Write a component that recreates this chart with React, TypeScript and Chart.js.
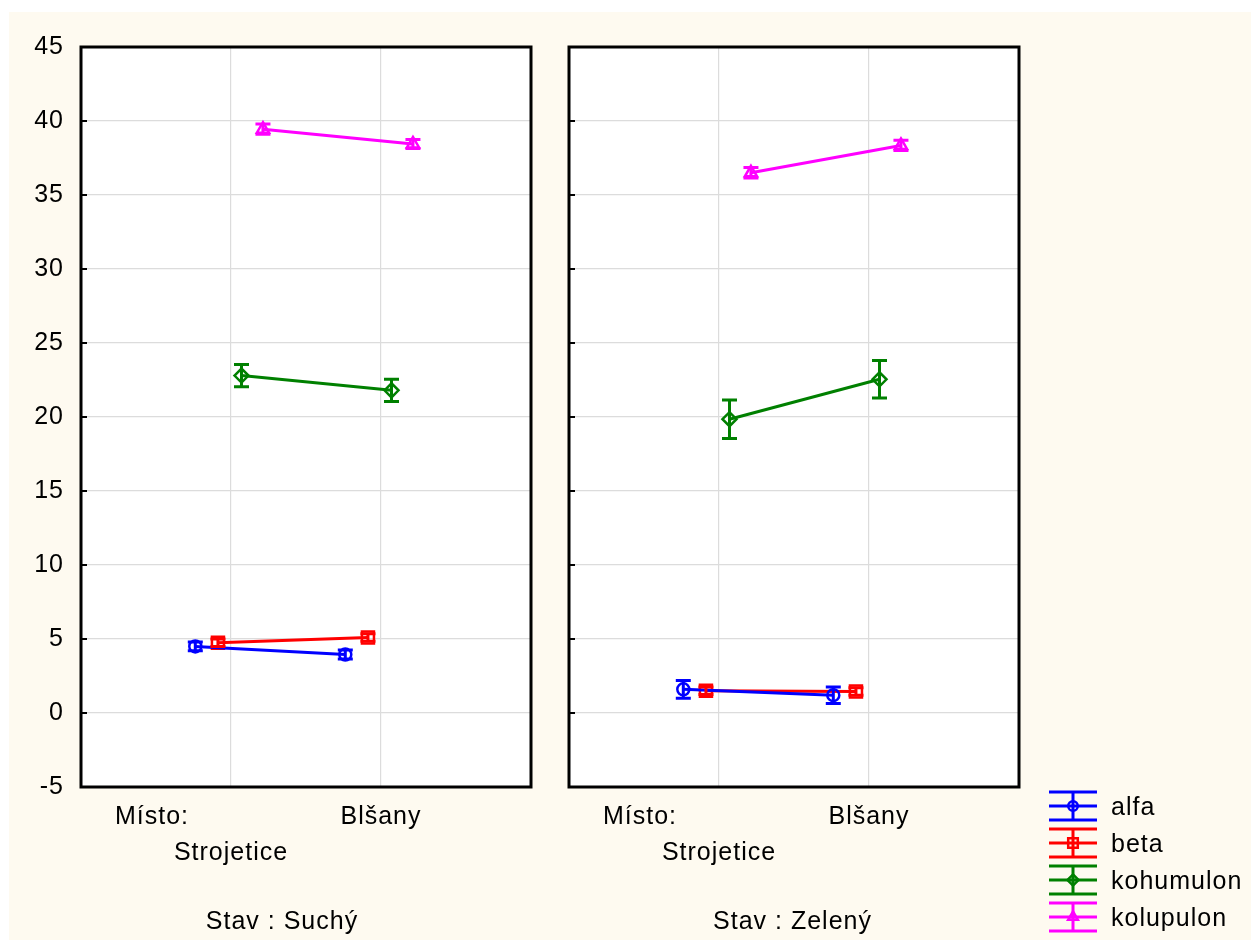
import React, { useEffect, useRef } from "react";
import { Chart, registerables } from "chart.js";
Chart.register(...registerables);

// ---- data ----
const places = ["Strojetice", "Blšany"];
const seriesNames = ["alfa", "beta", "kohumulon", "kolupulon"];
const seriesColors = ["#0000ff", "#ff0000", "#008000", "#ff00ff"];
const seriesMarkers = ["circle", "rect", "rectRot", "triangle"];
const yTickValues = [-5, 0, 5, 10, 15, 20, 25, 30, 35, 40, 45];

// Stav: Suchý
const alfaSuchy = [4.5, 3.95];
const betaSuchy = [4.75, 5.1];
const kohumulonSuchy = [22.8, 21.8];
const kolupulonSuchy = [39.45, 38.45];
const alfaSuchyErr = [0.3, 0.3];
const betaSuchyErr = [0.25, 0.25];
const kohumulonSuchyErr = [0.75, 0.75];
const kolupulonSuchyErr = [0.35, 0.3];

// Stav: Zelený
const alfaZeleny = [1.6, 1.2];
const betaZeleny = [1.5, 1.45];
const kohumulonZeleny = [19.85, 22.55];
const kolupulonZeleny = [36.5, 38.35];
const alfaZelenyErr = [0.6, 0.55];
const betaZelenyErr = [0.25, 0.25];
const kohumulonZelenyErr = [1.3, 1.27];
const kolupulonZelenyErr = [0.35, 0.35];

// horizontal dodge of each series around its category (layout)
const seriesOffsets = [-0.238, -0.087, 0.07, 0.213];
const pointRadii = [6, 8.5, 7, 7];

const FONT = "'Liberation Sans', Arial, sans-serif";
const FSIZE = 25;
const SPACING = "1px";

function drawMarker(ctx: CanvasRenderingContext2D, style: string, x: number, y: number, r: number, color: string) {
  ctx.save();
  ctx.strokeStyle = color;
  ctx.lineWidth = 2.5;
  ctx.beginPath();
  if (style === "circle") {
    ctx.arc(x, y, r, 0, Math.PI * 2);
  } else if (style === "rect") {
    const s = r * Math.SQRT1_2;
    ctx.rect(x - s, y - s, 2 * s, 2 * s);
  } else if (style === "rectRot") {
    ctx.moveTo(x, y - r);
    ctx.lineTo(x + r, y);
    ctx.lineTo(x, y + r);
    ctx.lineTo(x - r, y);
    ctx.closePath();
  } else {
    ctx.moveTo(x, y - r);
    ctx.lineTo(x + r * 0.866, y + r * 0.5);
    ctx.lineTo(x - r * 0.866, y + r * 0.5);
    ctx.closePath();
  }
  ctx.stroke();
  ctx.restore();
}

const framePlugin = {
  id: "frame",
  beforeUpdate(chart: any) {
    chart.ctx.letterSpacing = SPACING;
  },
  beforeDraw(chart: any) {
    const { ctx, chartArea: a } = chart;
    ctx.letterSpacing = SPACING;
    ctx.save();
    ctx.fillStyle = "#ffffff";
    ctx.fillRect(a.left, a.top, a.right - a.left, a.bottom - a.top);
    ctx.restore();
  },
  afterDatasetsDraw(chart: any) {
    const { ctx } = chart;
    const yScale = chart.scales.y;
    ctx.save();
    chart.data.datasets.forEach((ds: any, i: number) => {
      const meta = chart.getDatasetMeta(i);
      ctx.strokeStyle = ds.borderColor;
      ctx.lineWidth = 3;
      meta.data.forEach((pt: any, j: number) => {
        const v = ds.data[j].y;
        const e = ds.errors[j];
        const yt = yScale.getPixelForValue(v + e);
        const yb = yScale.getPixelForValue(v - e);
        const x = pt.x;
        ctx.beginPath();
        ctx.moveTo(x, yt);
        ctx.lineTo(x, yb);
        ctx.moveTo(x - 7.5, yt);
        ctx.lineTo(x + 7.5, yt);
        ctx.moveTo(x - 7.5, yb);
        ctx.lineTo(x + 7.5, yb);
        ctx.stroke();
      });
    });
    ctx.restore();
  },
  afterDraw(chart: any) {
    const { ctx, chartArea: a } = chart;
    const opts = chart.options.plugins.frame || {};
    const yScale = chart.scales.y;
    const xScale = chart.scales.x;
    ctx.save();
    ctx.strokeStyle = "#000";
    ctx.lineWidth = 3;
    ctx.strokeRect(a.left, a.top, a.right - a.left, a.bottom - a.top);
    ctx.lineWidth = 2;
    yTickValues.forEach((v) => {
      const y = yScale.getPixelForValue(v);
      ctx.beginPath();
      ctx.moveTo(a.left, y);
      ctx.lineTo(a.left + 6, y);
      ctx.stroke();
    });
    // panel title
    ctx.letterSpacing = SPACING;
    ctx.fillStyle = "#000";
    ctx.font = `${FSIZE}px ${FONT}`;
    ctx.textAlign = "center";
    ctx.textBaseline = "middle";
    ctx.fillText(opts.title, xScale.getPixelForValue(opts.titleX), 922);
    // legend
    if (opts.legend) {
      const lx = a.right + 30;
      const w = 48;
      chart.data.datasets.forEach((ds: any, i: number) => {
        const cy = a.bottom + 19 + i * 37;
        const cx = lx + w / 2;
        ctx.strokeStyle = ds.borderColor;
        ctx.lineWidth = 3;
        ctx.beginPath();
        [-14, 0, 14].forEach((dy) => {
          ctx.moveTo(lx, cy + dy);
          ctx.lineTo(lx + w, cy + dy);
        });
        ctx.moveTo(cx, cy - 14);
        ctx.lineTo(cx, cy + 14);
        ctx.stroke();
        drawMarker(ctx, seriesMarkers[i], cx, cy, pointRadii[i] * 0.8, ds.borderColor);
        ctx.fillStyle = "#000";
        ctx.textAlign = "left";
        ctx.textBaseline = "middle";
        ctx.fillText(ds.label, lx + 62, cy + 2);
      });
    }
    ctx.restore();
  },
};

function makeConfig(
  means: number[][],
  errs: number[][],
  title: string,
  titleX: number,
  showYLabels: boolean,
  legend: boolean
): any {
  const datasets = seriesNames.map((name, i) => ({
    label: name,
    data: places.map((_p, j) => ({ x: j + seriesOffsets[i], y: means[i][j] })),
    errors: errs[i],
    borderColor: seriesColors[i],
    backgroundColor: seriesColors[i],
    borderWidth: 3,
    pointStyle: seriesMarkers[i],
    pointRadius: pointRadii[i],
    pointBorderWidth: 2.5,
    pointBorderColor: seriesColors[i],
    pointBackgroundColor: "rgba(0,0,0,0)",
    showLine: true,
    fill: false,
  }));
  const mistoX = -0.527;
  return {
    type: "scatter",
    data: { datasets },
    options: {
      animation: false,
      responsive: false,
      layout: { padding: { top: 47, left: 0, right: legend ? 232 : 19, bottom: 0 } },
      font: { family: FONT, size: FSIZE },
      plugins: {
        legend: { display: false },
        tooltip: { enabled: false },
        frame: { title, titleX, legend },
      },
      scales: {
        x: {
          type: "linear",
          min: -1,
          max: 2,
          afterBuildTicks: (scale: any) => {
            scale.ticks = [{ value: mistoX }, { value: 0 }, { value: 1 }];
          },
          afterFit: (scale: any) => {
            scale.height = 153;
          },
          ticks: {
            autoSkip: false,
            maxRotation: 0,
            minRotation: 0,
            padding: 12,
            color: "#000",
            font: { family: FONT, size: FSIZE, lineHeight: 1.44 },
            callback: (v: number) => {
              if (v === 0) return ["", places[0]];
              if (v === 1) return places[1];
              return "Místo:";
            },
          },
          grid: {
            drawTicks: false,
            color: (c: any) => (c.tick && c.tick.value === mistoX ? "rgba(0,0,0,0)" : "#dcdcdc"),
            lineWidth: 1.2,
          },
          border: { display: false },
        },
        y: {
          type: "linear",
          min: -5,
          max: 45,
          afterBuildTicks: (scale: any) => {
            scale.ticks = yTickValues.map((v) => ({ value: v }));
          },
          afterFit: (scale: any) => {
            scale.width = showYLabels ? 81 : 19;
          },
          ticks: {
            display: showYLabels,
            padding: 17,
            color: "#000",
            font: { family: FONT, size: FSIZE },
          },
          grid: { drawTicks: false, color: "#dcdcdc", lineWidth: 1.2 },
          border: { display: false },
        },
      },
    },
    plugins: [framePlugin],
  };
}

export default function App() {
  const ref1 = useRef<HTMLCanvasElement>(null);
  const ref2 = useRef<HTMLCanvasElement>(null);
  useEffect(() => {
    document.body.style.margin = "0";
    const c1 = new Chart(
      ref1.current as HTMLCanvasElement,
      makeConfig(
        [alfaSuchy, betaSuchy, kohumulonSuchy, kolupulonSuchy],
        [alfaSuchyErr, betaSuchyErr, kohumulonSuchyErr, kolupulonSuchyErr],
        "Stav : Suchý",
        0.34,
        true,
        false
      )
    );
    const c2 = new Chart(
      ref2.current as HTMLCanvasElement,
      makeConfig(
        [alfaZeleny, betaZeleny, kohumulonZeleny, kolupulonZeleny],
        [alfaZelenyErr, betaZelenyErr, kohumulonZelenyErr, kolupulonZelenyErr],
        "Stav : Zelený",
        0.49,
        false,
        true
      )
    );
    return () => {
      c1.destroy();
      c2.destroy();
    };
  }, []);
  return (
    <div style={{ position: "relative", width: 1251, height: 940, background: "#ffffff", overflow: "hidden" }}>
      <div style={{ position: "absolute", left: 9, top: 12, right: 0, bottom: 0, background: "#fefaf0" }} />
      <canvas ref={ref1} width={550} height={940} style={{ position: "absolute", left: 0, top: 0 }} />
      <canvas ref={ref2} width={701} height={940} style={{ position: "absolute", left: 550, top: 0 }} />
    </div>
  );
}
